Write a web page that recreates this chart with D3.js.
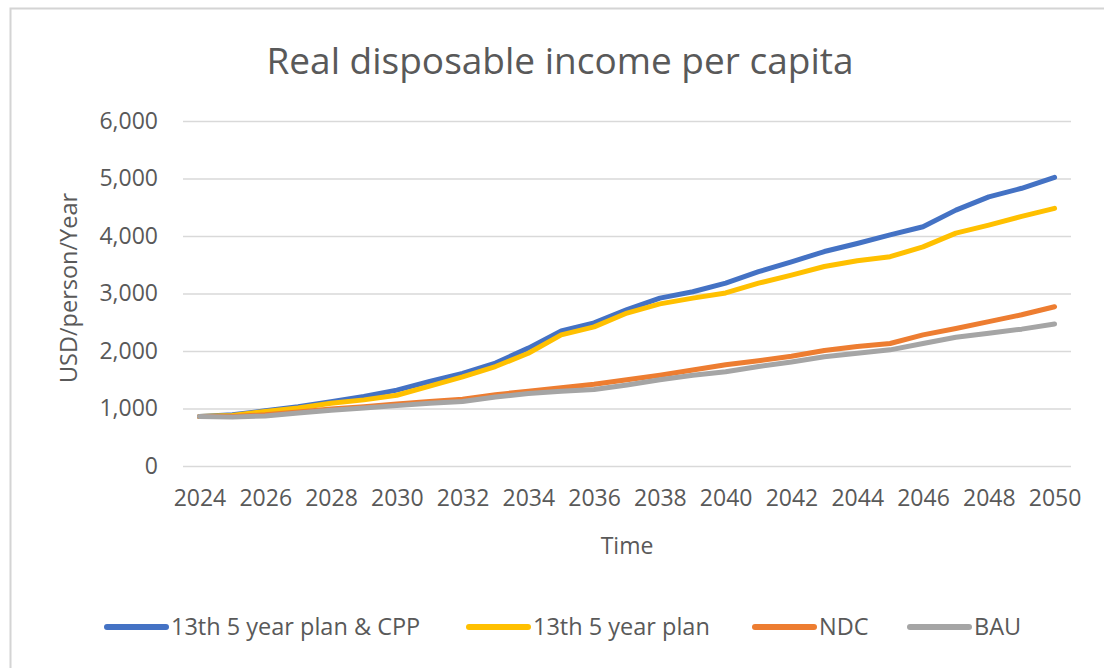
<!DOCTYPE html>
<html>
<head>
<meta charset="utf-8">
<script src="https://cdn.jsdelivr.net/npm/d3@7"></script>
<style>
  body { margin: 0; background: #fff; }
  text { font-family: "Open Sans", sans-serif; fill: #595959; }
</style>
</head>
<body>
<div id="container"></div>
<script>
const width = 1104, height = 668;

// data
const years = d3.range(2024, 2051);
const tickYears = [2024, 2026, 2028, 2030, 2032, 2034, 2036, 2038, 2040, 2042, 2044, 2046, 2048, 2050];
const yTicks = [0, 1000, 2000, 3000, 4000, 5000, 6000];

const planCPP = [860, 890, 960, 1030, 1120, 1210, 1320, 1470, 1610, 1790, 2050, 2350, 2490, 2720,
                 2920, 3030, 3180, 3380, 3550, 3730, 3870, 4020, 4160, 4450, 4680, 4830, 5020];
const plan = [860, 880, 950, 1010, 1090, 1150, 1230, 1390, 1550, 1730, 1960, 2280, 2420, 2660,
              2820, 2920, 3010, 3180, 3320, 3470, 3570, 3640, 3810, 4050, 4190, 4340, 4480];
const ndc = [860, 860, 890, 940, 990, 1030, 1080, 1120, 1160, 1240, 1300, 1360, 1420, 1500,
             1580, 1670, 1760, 1830, 1910, 2010, 2080, 2130, 2280, 2390, 2510, 2630, 2770];
const bau = [860, 850, 870, 920, 970, 1010, 1050, 1090, 1120, 1200, 1260, 1300, 1330, 1410,
             1500, 1580, 1640, 1730, 1810, 1900, 1960, 2020, 2130, 2240, 2310, 2380, 2470];

const seriesNames = ["13th 5 year plan & CPP", "13th 5 year plan", "NDC", "BAU"];
const seriesValues = [planCPP, plan, ndc, bau];
const colors = ["#4472C4", "#FFC000", "#ED7D31", "#A5A5A5"];

const svg = d3.select("#container")
  .append("svg")
  .attr("width", width)
  .attr("height", height);

// chart frame
svg.append("rect")
  .attr("x", 10.5)
  .attr("y", 8.5)
  .attr("width", 1200)
  .attr("height", 800)
  .attr("fill", "#fff")
  .attr("stroke", "#d4d4d4")
  .attr("stroke-width", 2);

const xScale = d3.scalePoint()
  .domain(years)
  .range([183, 1071])
  .padding(0.5);

const yScale = d3.scaleLinear()
  .domain([0, 6000])
  .range([466, 121]);

// gridlines + y labels
svg.append("g")
  .attr("transform", "translate(183,0)")
  .call(d3.axisLeft(yScale).tickValues(yTicks).tickSize(-(1071 - 183)).tickPadding(25)
    .tickFormat(d3.format(",")))
  .call(g => g.select(".domain").remove())
  .call(g => g.selectAll(".tick line").attr("stroke", "#d9d9d9").attr("stroke-width", 1.5))
  .call(g => g.selectAll(".tick text")
    .style("font-family", "'Open Sans', sans-serif")
    .style("font-size", "23px")
    .attr("fill", "#595959"));

// x labels
svg.append("g")
  .attr("transform", "translate(0,466)")
  .call(d3.axisBottom(xScale).tickValues(tickYears).tickSize(0).tickPadding(24))
  .call(g => g.select(".domain").remove())
  .call(g => g.selectAll(".tick text")
    .style("font-family", "'Open Sans', sans-serif")
    .style("font-size", "23px")
    .attr("fill", "#595959"));

const line = d3.line()
  .x((d, i) => xScale(years[i]))
  .y(d => yScale(d));

seriesValues.forEach((vals, i) => {
  svg.append("path")
    .datum(vals)
    .attr("fill", "none")
    .attr("stroke", colors[i])
    .attr("stroke-width", 5)
    .attr("stroke-linejoin", "round")
    .attr("stroke-linecap", "round")
    .attr("d", line);
});

// title
svg.append("text")
  .attr("x", 560)
  .attr("y", 74)
  .attr("text-anchor", "middle")
  .style("font-size", "37px")
  .text("Real disposable income per capita");

// axis titles
svg.append("text")
  .attr("x", 627)
  .attr("y", 554)
  .attr("text-anchor", "middle")
  .style("font-size", "23px")
  .text("Time");

svg.append("text")
  .attr("transform", "translate(77,288) rotate(-90)")
  .attr("text-anchor", "middle")
  .style("font-size", "23.5px")
  .text("USD/person/Year");

// legend
const legendX = [105, 467, 753, 908];
const legend = svg.append("g");
seriesNames.forEach((name, i) => {
  legend.append("line")
    .attr("x1", legendX[i] + 2)
    .attr("x2", legendX[i] + 61)
    .attr("y1", 627)
    .attr("y2", 627)
    .attr("stroke", colors[i])
    .attr("stroke-width", 6)
    .attr("stroke-linecap", "round");
  legend.append("text")
    .attr("x", legendX[i] + 66)
    .attr("y", 635)
    .style("font-size", "23.5px")
    .text(name);
});
</script>
</body>
</html>
